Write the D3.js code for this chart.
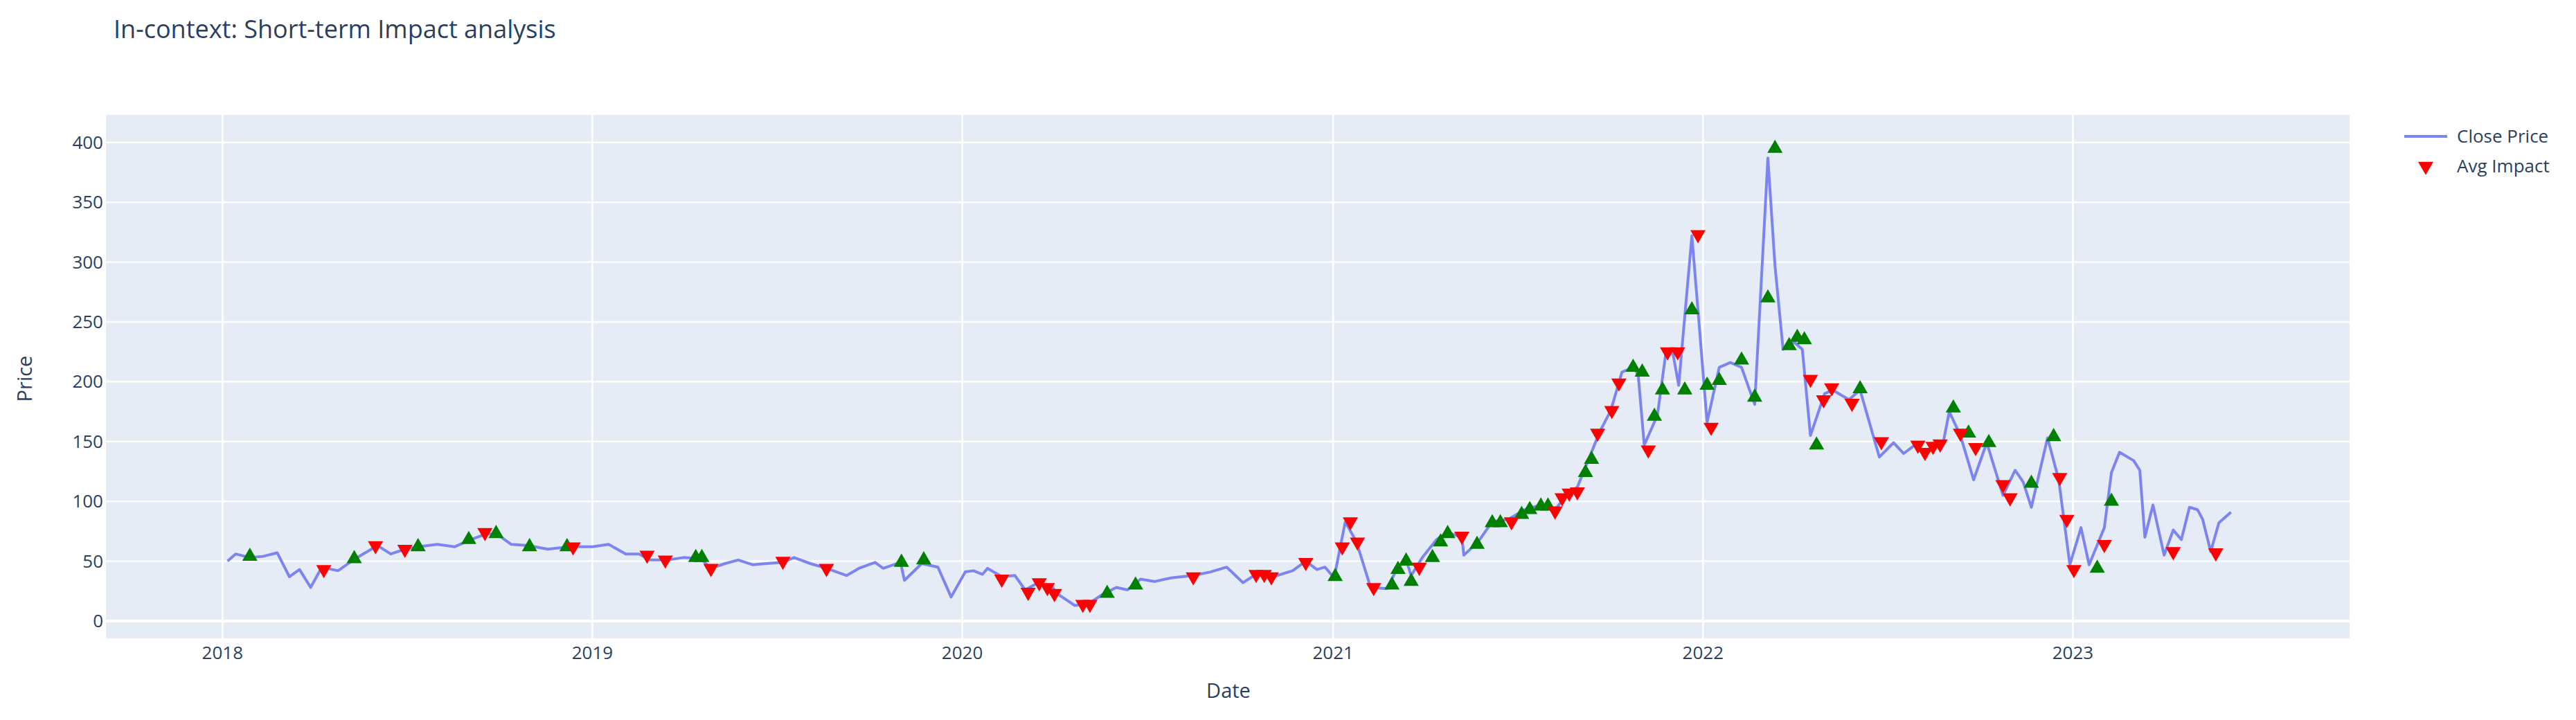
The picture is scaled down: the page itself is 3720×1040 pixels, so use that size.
<!DOCTYPE html>
<html>
<head>
<meta charset="utf-8">
<script src="https://cdn.jsdelivr.net/npm/d3@7"></script>
<style>
  body { margin: 0; background: #fff; }
  text { font-family: "Open Sans", "Noto Sans", sans-serif; fill: #2a3f5f; }
</style>
</head>
<body>
<script>
// close price (date, value)
var priceDates = ["2018-01-06","2018-01-14","2018-01-28","2018-02-10","2018-02-24","2018-03-08","2018-03-18","2018-03-29","2018-04-09","2018-04-25","2018-05-12","2018-06-03","2018-06-16","2018-06-30","2018-07-13","2018-08-01","2018-08-18","2018-09-03","2018-09-19","2018-09-30","2018-10-13","2018-10-30","2018-11-18","2018-12-09","2019-01-01","2019-01-17","2019-02-03","2019-02-16","2019-02-27","2019-03-16","2019-04-01","2019-04-18","2019-04-28","2019-05-12","2019-05-25","2019-06-08","2019-06-22","2019-07-08","2019-07-19","2019-08-04","2019-08-20","2019-09-09","2019-09-21","2019-10-07","2019-10-15","2019-11-01","2019-11-05","2019-11-22","2019-12-08","2019-12-21","2020-01-04","2020-01-12","2020-01-21","2020-01-26","2020-02-09","2020-02-22","2020-03-03","2020-03-16","2020-03-30","2020-04-05","2020-04-21","2020-05-04","2020-05-18","2020-06-01","2020-06-12","2020-06-25","2020-07-09","2020-07-25","2020-08-16","2020-09-02","2020-09-18","2020-10-04","2020-10-17","2020-11-03","2020-11-22","2020-12-05","2020-12-16","2020-12-24","2021-01-02","2021-01-13","2021-01-24","2021-02-07","2021-02-23","2021-03-06","2021-03-14","2021-03-19","2021-03-30","2021-04-13","2021-04-24","2021-05-08","2021-05-10","2021-05-24","2021-06-07","2021-06-23","2021-07-09","2021-07-25","2021-08-08","2021-08-19","2021-08-30","2021-09-10","2021-09-21","2021-10-02","2021-10-13","2021-10-24","2021-10-29","2021-11-04","2021-11-17","2021-11-25","2021-12-02","2021-12-08","2021-12-21","2021-12-27","2022-01-05","2022-01-17","2022-01-28","2022-02-08","2022-02-21","2022-03-06","2022-03-13","2022-03-21","2022-04-01","2022-04-09","2022-04-17","2022-05-01","2022-05-09","2022-05-25","2022-06-05","2022-06-24","2022-07-08","2022-07-18","2022-07-29","2022-08-10","2022-08-26","2022-09-01","2022-09-12","2022-09-25","2022-10-08","2022-10-24","2022-11-05","2022-11-13","2022-11-21","2022-12-07","2022-12-18","2022-12-29","2023-01-09","2023-01-17","2023-02-01","2023-02-08","2023-02-16","2023-03-02","2023-03-08","2023-03-13","2023-03-21","2023-04-01","2023-04-10","2023-04-18","2023-04-26","2023-05-04","2023-05-09","2023-05-17","2023-05-25","2023-06-06"];
var priceValues = [50,56,53,54,57,37,43,28,45,42,52,63,56,60,62,64,62,68,73,72,64,63,60,62,62,64,56,56,51,51,53,52,44,48,51,47,48,49,53,48,44,38,44,49,44,49,34,48,45,20,41,42,39,44,37,38,26,32,28,22,13,14,22,28,26,35,33,36,38,41,45,32,39,37,42,50,43,45,36,83,66,28,27,45,51,38,53,68,74,70,55,66,83,85,93,97,93,105,112,135,158,176,208,212,206,147,172,222,225,197,322,260,166,212,216,212,181,387,297,227,233,227,155,190,193,185,193,137,149,140,147,141,149,175,155,118,149,105,126,116,95,153,118,47,78,47,78,124,141,134,126,70,97,55,76,68,95,93,85,58,82,91];

// avg impact markers: positive (green up) and negative (red down)
var upDates = ["2018-01-28","2018-05-11","2018-07-13","2018-09-01","2018-09-28","2018-10-31","2018-12-07","2019-04-13","2019-04-19","2019-11-02","2019-11-24","2020-05-23","2020-06-20","2021-01-03","2021-02-28","2021-03-06","2021-03-14","2021-03-19","2021-04-09","2021-04-17","2021-04-24","2021-05-23","2021-06-07","2021-06-15","2021-07-06","2021-07-14","2021-07-25","2021-08-01","2021-09-07","2021-09-13","2021-10-24","2021-11-02","2021-11-14","2021-11-22","2021-12-14","2021-12-21","2022-01-05","2022-01-17","2022-02-08","2022-02-21","2022-03-06","2022-03-13","2022-03-27","2022-04-04","2022-04-11","2022-04-23","2022-06-05","2022-09-05","2022-09-20","2022-10-10","2022-11-21","2022-12-13","2023-01-25","2023-02-08"];
var upValues = [54,52,62,68,73,62,62,53,53,49,51,23,30,37,30,43,50,33,53,66,73,64,82,82,89,93,96,96,124,135,212,208,171,193,193,260,197,201,218,187,270,395,230,237,235,147,194,178,157,149,115,154,44,100];
var downDates = ["2018-04-11","2018-06-01","2018-06-30","2018-09-17","2018-12-13","2019-02-24","2019-03-14","2019-04-28","2019-07-08","2019-08-20","2020-02-09","2020-03-06","2020-03-17","2020-03-25","2020-04-01","2020-04-29","2020-05-06","2020-08-16","2020-10-17","2020-10-25","2020-11-01","2020-12-05","2021-01-10","2021-01-18","2021-01-25","2021-02-10","2021-03-27","2021-05-08","2021-06-26","2021-08-08","2021-08-15","2021-08-22","2021-08-30","2021-09-19","2021-10-03","2021-10-10","2021-11-08","2021-11-27","2021-12-07","2021-12-27","2022-01-09","2022-04-17","2022-04-30","2022-05-08","2022-05-28","2022-06-26","2022-08-01","2022-08-08","2022-08-16","2022-08-23","2022-09-12","2022-09-27","2022-10-24","2022-10-31","2022-12-19","2022-12-26","2023-01-02","2023-02-01","2023-04-10","2023-05-22"];
var downValues = [43,63,60,74,62,55,51,44,50,44,35,24,32,28,23,14,14,37,39,39,37,49,62,83,66,28,45,71,83,92,103,107,108,157,176,199,143,225,225,323,162,202,185,195,182,150,147,141,146,148,157,145,114,103,120,85,43,64,58,57];

var yTicks = [0, 50, 100, 150, 200, 250, 300, 350, 400];
var xTickYears = [2018, 2019, 2020, 2021, 2022, 2023];

var W = 3720, H = 1040;
var plot = { left: 153, right: 3393, top: 166, bottom: 922 };
var parse = d3.timeParse("%Y-%m-%d");

var svg = d3.select("body").append("svg").attr("width", W).attr("height", H);

var x = d3.scaleTime()
    .domain([new Date(2017, 8, 8), new Date(2023, 9, 1)])
    .range([plot.left, plot.right]);
var y = d3.scaleLinear()
    .domain([-14.5, 423])
    .range([plot.bottom, plot.top]);

svg.append("rect")
    .attr("x", plot.left).attr("y", plot.top)
    .attr("width", plot.right - plot.left).attr("height", plot.bottom - plot.top)
    .attr("fill", "#e5ecf6");

// grid
svg.append("g").selectAll("line").data(yTicks).enter().append("line")
    .attr("x1", plot.left).attr("x2", plot.right)
    .attr("y1", function (d) { return y(d); }).attr("y2", function (d) { return y(d); })
    .attr("stroke", "#fff").attr("stroke-width", function (d) { return d === 0 ? 4 : 2.5; });
svg.append("g").selectAll("line").data(xTickYears).enter().append("line")
    .attr("x1", function (d) { return x(new Date(d, 0, 1)); }).attr("x2", function (d) { return x(new Date(d, 0, 1)); })
    .attr("y1", plot.top).attr("y2", plot.bottom)
    .attr("stroke", "#fff").attr("stroke-width", 2.5);

// tick labels
svg.append("g").selectAll("text").data(yTicks).enter().append("text")
    .attr("x", plot.left - 4).attr("y", function (d) { return y(d); })
    .attr("dy", "0.35em").attr("text-anchor", "end")
    .style("font-size", "26px").text(function (d) { return d; });
svg.append("g").selectAll("text").data(xTickYears).enter().append("text")
    .attr("x", function (d) { return x(new Date(d, 0, 1)); }).attr("y", 952)
    .attr("text-anchor", "middle")
    .style("font-size", "26px").text(function (d) { return d; });

// axis titles and chart title
svg.append("text").attr("x", 1774).attr("y", 1008).attr("text-anchor", "middle")
    .style("font-size", "29px").text("Date");
svg.append("text").attr("transform", "translate(46,547) rotate(-90)").attr("text-anchor", "middle")
    .style("font-size", "29px").text("Price");
svg.append("text").attr("x", 164).attr("y", 55)
    .style("font-size", "36px").text("In-context: Short-term Impact analysis");

// price line
var priceData = priceDates.map(function (d, i) { return { date: parse(d), value: priceValues[i] }; });
var line = d3.line()
    .x(function (d) { return x(d.date); })
    .y(function (d) { return y(d.value); });
svg.append("path").datum(priceData)
    .attr("d", line).attr("fill", "none")
    .attr("stroke", "#7c84f2").attr("stroke-width", 4).attr("stroke-linejoin", "round");

// markers
var tri = d3.symbol().type(d3.symbolTriangle).size(210);
var upData = upDates.map(function (d, i) { return { date: parse(d), value: upValues[i] }; });
var downData = downDates.map(function (d, i) { return { date: parse(d), value: downValues[i] }; });

svg.append("g").selectAll("path").data(upData).enter().append("path")
    .attr("d", tri)
    .attr("transform", function (d) { return "translate(" + x(d.date) + "," + y(d.value) + ")"; })
    .attr("fill", "#008000");
svg.append("g").selectAll("path").data(downData).enter().append("path")
    .attr("d", tri)
    .attr("transform", function (d) { return "translate(" + x(d.date) + "," + y(d.value) + ") rotate(180)"; })
    .attr("fill", "#ff0000");

// legend
var lg = svg.append("g").attr("transform", "translate(3472,0)");
lg.append("line").attr("x1", 0).attr("x2", 62).attr("y1", 197).attr("y2", 197)
    .attr("stroke", "#7c84f2").attr("stroke-width", 4);
lg.append("text").attr("x", 76).attr("y", 197).attr("dy", "0.35em")
    .style("font-size", "26px").text("Close Price");
lg.append("path").attr("d", tri).attr("transform", "translate(31,240) rotate(180)").attr("fill", "#ff0000");
lg.append("text").attr("x", 76).attr("y", 240).attr("dy", "0.35em")
    .style("font-size", "26px").text("Avg Impact");
</script>
</body>
</html>
